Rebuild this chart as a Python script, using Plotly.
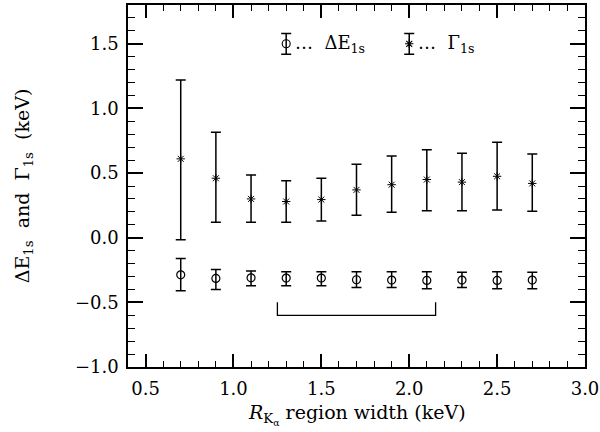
import plotly.graph_objects as go

# Data
x_width = [0.7, 0.9, 1.1, 1.3, 1.5, 1.7, 1.9, 2.1, 2.3, 2.5, 2.7]

gamma = [0.61, 0.46, 0.30, 0.28, 0.295, 0.37, 0.41, 0.45, 0.43, 0.475, 0.42]
gamma_hi = [1.22, 0.815, 0.485, 0.44, 0.46, 0.568, 0.632, 0.681, 0.653, 0.738, 0.648]
gamma_lo = [-0.015, 0.119, 0.119, 0.12, 0.13, 0.173, 0.196, 0.209, 0.209, 0.214, 0.204]

dE = [-0.287, -0.315, -0.31, -0.312, -0.312, -0.325, -0.328, -0.33, -0.328, -0.33, -0.328]
dE_hi = [-0.16, -0.245, -0.258, -0.263, -0.263, -0.263, -0.263, -0.263, -0.268, -0.263, -0.268]
dE_lo = [-0.41, -0.40, -0.372, -0.372, -0.372, -0.385, -0.385, -0.395, -0.385, -0.395, -0.395]

# range bracket
bracket_x = [1.25, 2.15]
bracket_y = [-0.5, -0.6]

# legend key positions
legend_x = [1.3, 2.0]
legend_y = 1.5
legend_err = 0.08
legend_labels = ["\u2026&nbsp;&nbsp;\u0394E<sub>1s</sub>", "\u2026&nbsp;&nbsp;\u0393<sub>1s</sub>"]

x_title = "<i>R</i><sub>K<sub>\u03b1</sub></sub>&nbsp;region width (keV)"
y_title = "\u0394E<sub>1s</sub>&nbsp;&nbsp;and&nbsp;&nbsp;\u0393<sub>1s</sub>&nbsp;&nbsp;(keV)"

FONT = "DejaVu Serif"
FS = 18
FT = 19
BLACK = "black"

fig = go.Figure()

def err(center, hi, lo):
    return dict(
        type="data", symmetric=False,
        array=[h - c for h, c in zip(hi, center)],
        arrayminus=[c - l for c, l in zip(center, lo)],
        color=BLACK, thickness=1.5, width=5,
    )

fig.add_trace(go.Scatter(
    x=x_width, y=gamma, mode="markers",
    marker=dict(symbol="asterisk-open", size=7, color=BLACK, line=dict(color=BLACK, width=1)),
    error_y=err(gamma, gamma_hi, gamma_lo), showlegend=False,
))
fig.add_trace(go.Scatter(
    x=x_width, y=dE, mode="markers",
    marker=dict(symbol="circle-open", size=8, color=BLACK, line=dict(color=BLACK, width=1.2)),
    error_y=err(dE, dE_hi, dE_lo), showlegend=False,
))

# bracket
fig.add_trace(go.Scatter(
    x=[bracket_x[0], bracket_x[0], bracket_x[1], bracket_x[1]],
    y=[bracket_y[0], bracket_y[1], bracket_y[1], bracket_y[0]],
    mode="lines", line=dict(color=BLACK, width=1.3), showlegend=False,
))

# legend keys
sym = ["circle-open", "asterisk-open"]
sz = [8, 7]
for i, lx in enumerate(legend_x):
    fig.add_trace(go.Scatter(
        x=[lx], y=[legend_y], mode="markers",
        marker=dict(symbol=sym[i], size=sz[i], color=BLACK, line=dict(color=BLACK, width=1.1)),
        error_y=dict(type="constant", value=legend_err, color=BLACK, thickness=1.5, width=5),
        showlegend=False,
    ))
    fig.add_annotation(
        x=lx + 0.04, y=legend_y, text=legend_labels[i], showarrow=False,
        xanchor="left", yanchor="middle", font=dict(family=FONT, size=FS, color=BLACK),
    )

# x-axis title as annotation for precise placement
fig.add_annotation(
    x=0.5, xref="paper", y=0, yref="paper", yanchor="top", yshift=-32,
    text=x_title, showarrow=False, font=dict(family=FONT, size=FT, color=BLACK),
)

axis_common = dict(
    showline=True, linecolor=BLACK, linewidth=1.5, mirror="allticks",
    ticks="inside", tickcolor=BLACK, tickwidth=1.5,
    showgrid=False, zeroline=False, automargin=False,
    tickfont=dict(family=FONT, size=FS, color=BLACK),
)

fig.update_xaxes(
    range=[0.4, 3.0], dtick=0.5, tick0=0.5, ticklen=13, tickformat=".1f",
    minor=dict(dtick=0.1, tick0=0.5, ticks="inside", ticklen=6, tickcolor=BLACK, tickwidth=1.2, showgrid=False),
    ticklabelstandoff=5,
    **axis_common,
)
fig.update_yaxes(
    range=[-1.0, 1.8], dtick=0.5, tick0=0.0, ticklen=15, tickformat=".1f",
    minor=dict(dtick=0.1, tick0=0.0, ticks="inside", ticklen=7, tickcolor=BLACK, tickwidth=1.2, showgrid=False),
    title=dict(text=y_title, font=dict(family=FONT, size=FT, color=BLACK), standoff=40),
    ticklabelstandoff=4,
    **axis_common,
)

fig.update_layout(
    width=600, height=432,
    margin=dict(l=128, r=15, t=5, b=65),
    plot_bgcolor="white", paper_bgcolor="white",
    font=dict(family=FONT, size=FS, color=BLACK),
    showlegend=False,
)

fig.write_html("out.html", config={"displayModeBar": False},
               post_script="document.body.style.margin='0';")
